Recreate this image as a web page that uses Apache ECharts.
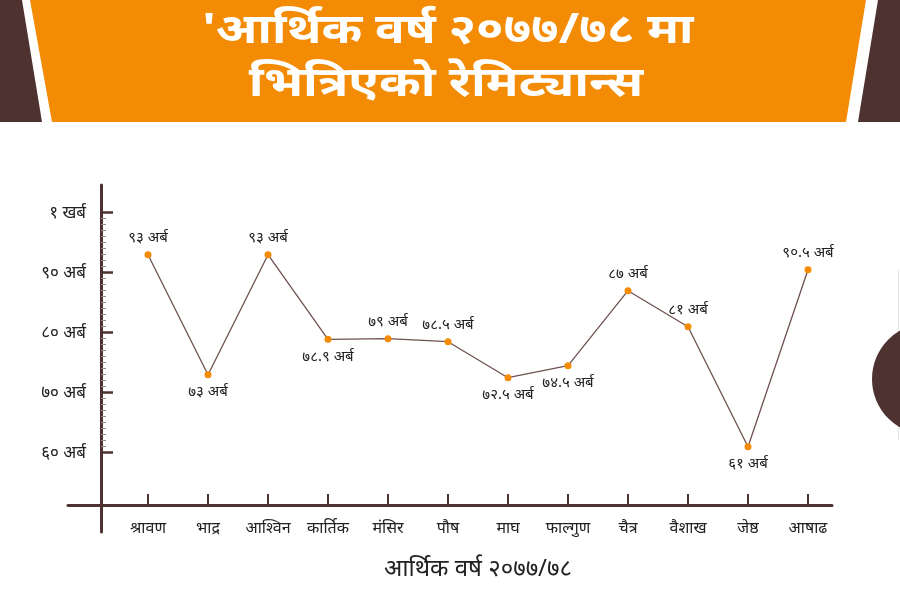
<!DOCTYPE html>
<html>
<head>
<meta charset="utf-8">
<script src="https://cdn.jsdelivr.net/npm/echarts@6/dist/echarts.min.js"></script>
<style>
html,body{margin:0;padding:0;background:#fff;}
#chart{width:900px;height:603px;}
</style>
</head>
<body>
<div id="chart"></div>
<script>
const months = ['श्रावण','भाद्र','आश्विन','कार्तिक','मंसिर','पौष','माघ','फाल्गुण','चैत्र','वैशाख','जेष्ठ','आषाढ'];
const remittance = [93, 73, 93, 78.9, 79, 78.5, 72.5, 74.5, 87, 81, 61, 90.5];
const labelSide = ['top','bottom','top','bottom','top','top','bottom','bottom','top','top','bottom','top'];
const yTickLabels = {100:'१ खर्ब', 90:'९० अर्ब', 80:'८० अर्ब', 70:'७० अर्ब', 60:'६० अर्ब'};
const titleLines = ["'आर्थिक वर्ष २०७७/७८ मा", 'भित्रिएको रेमिट्यान्स'];
const axisTitle = 'आर्थिक वर्ष २०७७/७८';

const devDigits = '०१२३४५६७८९';
function toDev(v){ return String(v).replace(/[0-9]/g, d => devDigits[+d]); }

const BROWN = '#4e3230';
const ORANGE = '#f48b05';
const FONT = "'Noto Sans', 'DejaVu Sans', sans-serif";

const titleStyle = {fill: '#ffffff', fontSize: 41, fontWeight: 'bold', fontFamily: FONT, align: 'center', verticalAlign: 'middle'};

const chart = echarts.init(document.getElementById('chart'));
chart.setOption({
  backgroundColor: '#ffffff',
  animation: false,
  graphic: [
    {type: 'polygon', z: -10, shape: {points: [[0,0],[22,0],[42,122],[0,122]]}, style: {fill: BROWN}},
    {type: 'polygon', z: -10, shape: {points: [[30,0],[866,0],[846,122],[52,122]]}, style: {fill: ORANGE}},
    {type: 'polygon', z: -10, shape: {points: [[878,0],[900,0],[900,122],[858,122]]}, style: {fill: BROWN}},
    {type: 'circle', z: -10, shape: {cx: 928, cy: 379, r: 56}, style: {fill: BROWN}},
    {type: 'line', z: -11, shape: {x1: 898.5, y1: 270, x2: 898.5, y2: 440}, style: {stroke: '#e6e6e6', lineWidth: 1}},
    {type: 'text', z: 10, x: 448, y: 31, scaleX: 1.2, style: Object.assign({text: titleLines[0]}, titleStyle)},
    {type: 'text', z: 10, x: 446, y: 84, scaleX: 1.23, style: Object.assign({text: titleLines[1]}, titleStyle)}
  ],
  grid: [
    {left: 118, right: 62, top: 212.7, bottom: 150.3},
    {left: 68, right: 68, top: 185, bottom: 98},
    {left: 101, right: 100, top: 185, bottom: 71}
  ],
  xAxis: [
    {
      type: 'category', gridIndex: 0, data: months, position: 'bottom', offset: 52.3,
      axisLine: {show: false},
      axisTick: {show: true, inside: true, length: 11, alignWithLabel: true, lineStyle: {color: BROWN, width: 2}},
      axisLabel: {color: '#222', fontSize: 16, margin: 15, fontFamily: FONT, interval: 0},
      name: axisTitle, nameLocation: 'middle', nameGap: 52,
      nameTextStyle: {color: '#222', fontSize: 24, fontFamily: FONT}
    },
    {type: 'value', gridIndex: 1, min: 0, max: 1, axisLine: {show: true, lineStyle: {color: BROWN, width: 3}}, axisTick: {show: false}, axisLabel: {show: false}, splitLine: {show: false}},
    {type: 'value', gridIndex: 2, show: false}
  ],
  yAxis: [
    {
      type: 'value', gridIndex: 0, min: 60, max: 100, interval: 10, offset: 17,
      axisLine: {show: false},
      axisTick: {show: true, inside: true, length: 12, lineStyle: {color: BROWN, width: 2.5}},
      minorTick: {show: true, splitNumber: 10, length: 5, lineStyle: {color: '#9a8a88', width: 1}},
      splitLine: {show: false},
      axisLabel: {color: '#222', fontSize: 17, margin: 15, fontFamily: FONT, formatter: v => yTickLabels[v] || ''}
    },
    {type: 'value', gridIndex: 1, show: false},
    {type: 'value', gridIndex: 2, min: 0, max: 1, axisLine: {show: true, lineStyle: {color: BROWN, width: 3}}, axisTick: {show: false}, axisLabel: {show: false}, splitLine: {show: false}}
  ],
  series: [{
    type: 'line', xAxisIndex: 0, yAxisIndex: 0,
    data: remittance.map((v, i) => ({value: v, label: {position: labelSide[i]}})),
    symbol: 'circle', symbolSize: 7,
    lineStyle: {color: '#6e524f', width: 1.3},
    itemStyle: {color: ORANGE},
    label: {show: true, distance: 6, color: '#222', fontSize: 15, fontFamily: FONT, formatter: p => toDev(p.value) + ' अर्ब'}
  }]
});
</script>
</body>
</html>
